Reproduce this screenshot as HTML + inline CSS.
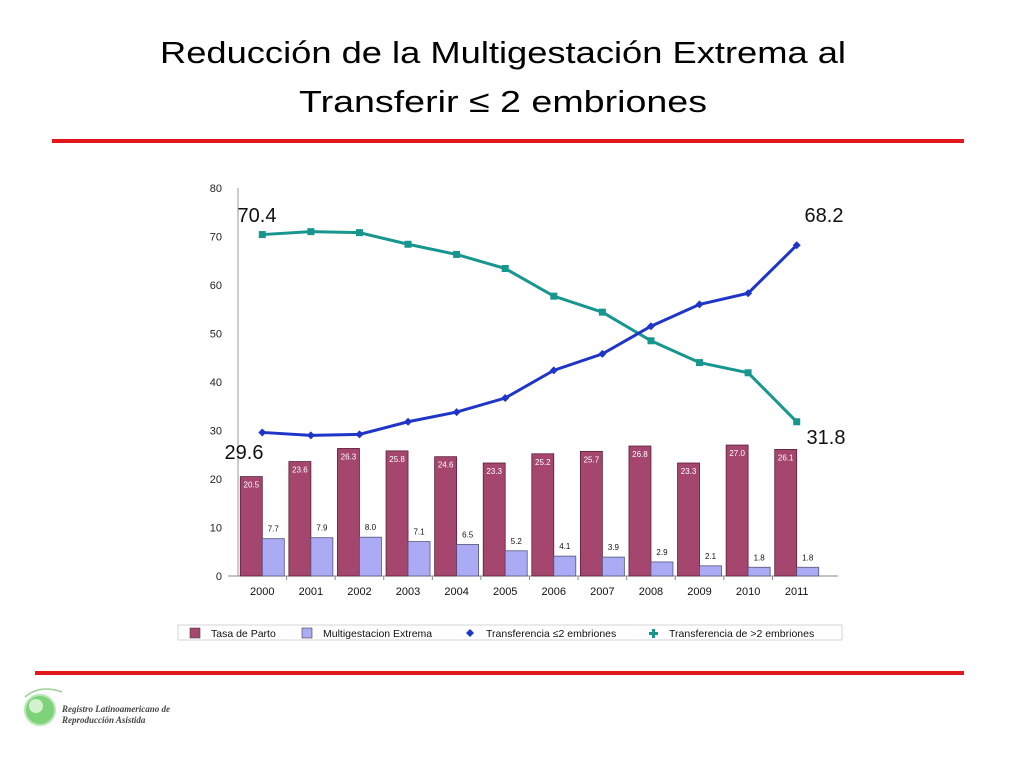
<!DOCTYPE html>
<html><head><meta charset="utf-8"><style>
html,body{margin:0;padding:0;background:#fff;}
svg{display:block;font-family:"Liberation Sans",sans-serif;}
</style></head><body>
<svg id="s" width="1024" height="768" viewBox="0 0 1024 768">
<text x="503" y="63" text-anchor="middle" font-size="31" textLength="686" lengthAdjust="spacingAndGlyphs" fill="#000">Reducción de la Multigestación Extrema al</text>
<text x="503" y="112" text-anchor="middle" font-size="31" textLength="408" lengthAdjust="spacingAndGlyphs" fill="#000">Transferir ≤ 2  embriones</text>
<rect x="52" y="139" width="912" height="4" fill="#e3161b"/>
<rect x="35" y="671" width="929" height="4" fill="#e3161b"/>
<g id="chart"></g>
<g>
<circle cx="40" cy="710" r="15" fill="#7ed37a" stroke="#b8e6b4" stroke-width="2"/>
<circle cx="36" cy="706" r="7" fill="#d4f2d0"/>
<path d="M25 697 Q40 684 62 692" stroke="#9ccf96" fill="none" stroke-width="1.5"/>
<text x="62" y="712" font-family="Liberation Serif,serif" font-style="italic" font-weight="bold" font-size="9" fill="#444">Registro Latinoamericano de</text>
<text x="62" y="723" font-family="Liberation Serif,serif" font-style="italic" font-weight="bold" font-size="9" fill="#444">Reproducción Asistida</text>
</g>
</svg>
<script>
const years=["2000","2001","2002","2003","2004","2005","2006","2007","2008","2009","2010","2011"];
const tasaParto=[20.5,23.6,26.3,25.8,24.6,23.3,25.2,25.7,26.8,23.3,27.0,26.1];
const multiExtrema=[7.7,7.9,8.0,7.1,6.5,5.2,4.1,3.9,2.9,2.1,1.8,1.8];
const transfLe2=[29.6,29.0,29.2,31.8,33.8,36.7,42.4,45.8,51.5,56.0,58.3,68.2];
const transfGt2=[70.4,71.0,70.8,68.4,66.3,63.4,57.7,54.4,48.5,44.0,41.9,31.8];
const yTicks=[0,10,20,30,40,50,60,70,80];
const NS="http://www.w3.org/2000/svg";
const g=document.getElementById('chart');
const X0=238,X1=821,Y0=576,Y80=188;
const bw=(X1-X0)/years.length;
const y=v=>Y0-(v/80)*(Y0-Y80);
const xc=i=>X0+bw*(i+0.5);
function mk(t,a){const e=document.createElementNS(NS,t);for(const k in a)e.setAttribute(k,a[k]);g.appendChild(e);return e;}
let e;
e=mk('rect',{x:X0,y:Y80,width:X1-X0,height:Y0-Y80,fill:'#fff'});


yTicks.forEach(t=>{
 e=mk('text',{x:222,y:y(t)+4,'text-anchor':'end','font-size':11,fill:'#222'});e.textContent=t;
 
 
});
e=mk('line',{x1:X0,y1:Y80,x2:X0,y2:Y0,stroke:'#999'});


e=mk('line',{x1:228,y1:Y0,x2:838,y2:Y0,stroke:'#888'});


years.forEach((yr,i)=>{
 const c=xc(i);
 e=mk('rect',{x:c-22,y:y(tasaParto[i]),width:22,height:Y0-y(tasaParto[i]),fill:'#a5466f',stroke:'#5a2038','stroke-width':0.8});
 
 
 e=mk('text',{x:c-11,y:y(tasaParto[i])+11,'text-anchor':'middle','font-size':8,fill:'#fff'});e.textContent=tasaParto[i].toFixed(1);
 
 
 e=mk('rect',{x:c,y:y(multiExtrema[i]),width:22,height:Y0-y(multiExtrema[i]),fill:'#aaaaf5',stroke:'#55557a','stroke-width':0.8});
 
 
 e=mk('text',{x:c+11,y:y(multiExtrema[i])-7,'text-anchor':'middle','font-size':8,fill:'#111'});e.textContent=multiExtrema[i].toFixed(1);
 
 
 e=mk('text',{x:c,y:595,'text-anchor':'middle','font-size':11,fill:'#111'});e.textContent=yr;
 
 
 if(i>0){e=mk('line',{x1:X0+bw*i,y1:Y0,x2:X0+bw*i,y2:Y0+4,stroke:'#888'});
 
 }
});
function series(vals,col,name,sq){
 e=mk('polyline',{points:vals.map((v,i)=>xc(i)+','+y(v)).join(' '),fill:'none',stroke:col,'stroke-width':3});
 
 
 vals.forEach((v,i)=>{
  if(sq) e=mk('rect',{x:xc(i)-3.5,y:y(v)-3.5,width:7,height:7,fill:col});
  else e=mk('path',{d:`M${xc(i)} ${y(v)-4}L${xc(i)+4} ${y(v)}L${xc(i)} ${y(v)+4}L${xc(i)-4} ${y(v)}Z`,fill:col});
  
  
 });
}
series(transfGt2,'#17968f','transferencia-mas-2',true);
series(transfLe2,'#1f35c8','transferencia-le-2',false);
[[transfGt2[0],257,222],[transfLe2[0],244,459],[transfLe2[11],824,222],[transfGt2[11],826,444]].forEach(a=>{
 e=mk('text',{x:a[1],y:a[2],'text-anchor':'middle','font-size':20,fill:'#111'});e.textContent=a[0].toFixed(1);
 
 
});
e=mk('rect',{x:178,y:625,width:664,height:15,fill:'#fff',stroke:'#ccc','stroke-width':0.8});


const leg=[[190,'Tasa de Parto','#a5466f','r'],[302,'Multigestacion Extrema','#aaaaf5','r'],[465,'Transferencia ≤2 embriones','#1f35c8','d'],[648,'Transferencia de >2 embriones','#17968f','s']];
leg.forEach(l=>{
 if(l[3]==='r') e=mk('rect',{x:l[0],y:628,width:10,height:10,fill:l[2],stroke:'#444','stroke-width':0.6});
 else if(l[3]==='d') e=mk('path',{d:`M${l[0]+5} 629L${l[0]+9} 633L${l[0]+5} 637L${l[0]+1} 633Z`,fill:l[2]});
 else e=mk('path',{d:`M${l[0]+4} 629h3v3h3v3h-3v3h-3v-3h-3v-3h3Z`,fill:l[2]});
 
 
 e=mk('text',{x:l[0]+21,y:637,'font-size':10.5,fill:'#111'});e.textContent=l[1];
 
 
});
</script>
</body></html>
